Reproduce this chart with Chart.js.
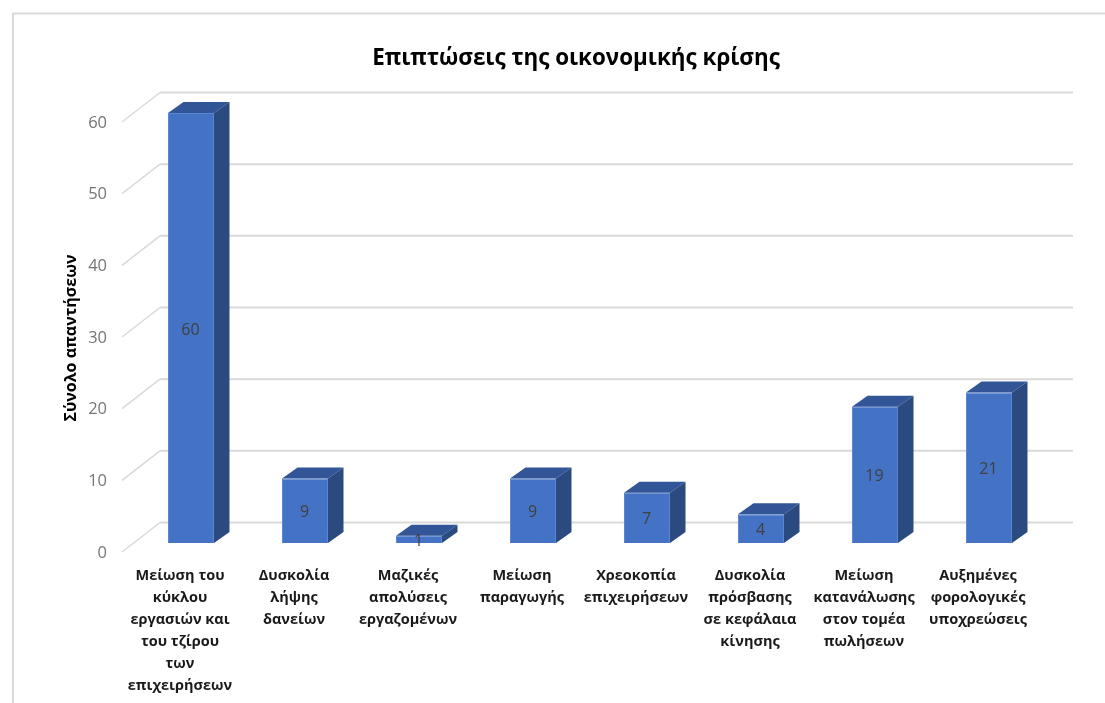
<!DOCTYPE html>
<html><head><meta charset="utf-8">
<style>html,body{margin:0;padding:0;background:#fff}canvas{display:block}</style>
<script src="https://cdn.jsdelivr.net/npm/chart.js@4/dist/chart.umd.min.js"></script>
</head><body><canvas id="c" width="1105" height="703"></canvas>
<script>
const categories = [
  ["Μείωση του","κύκλου","εργασιών και","του τζίρου","των","επιχειρήσεων"],
  ["Δυσκολία","λήψης","δανείων"],
  ["Μαζικές","απολύσεις","εργαζομένων"],
  ["Μείωση","παραγωγής"],
  ["Χρεοκοπία","επιχειρήσεων"],
  ["Δυσκολία","πρόσβασης","σε κεφάλαια","κίνησης"],
  ["Μείωση","κατανάλωσης","στον τομέα","πωλήσεων"],
  ["Αυξημένες","φορολογικές","υποχρεώσεις"]
];
const values = [60, 9, 1, 9, 7, 4, 19, 21];
const chartTitle = "Επιπτώσεις της οικονομικής κρίσης";
const yTitle = "Σύνολο απαντήσεων";
const FONT = "'Open Sans', sans-serif";
const DX = 15.5, DY = 11;

const shiftTitle = { id:'shiftTitle', afterLayout(c){ if(c.titleBlock){ c.titleBlock.left += 29; c.titleBlock.right += 29; } } };

const frame = { id:'frame', beforeDraw(c){
  const x=c.ctx; x.save(); x.strokeStyle='#d9d9d9'; x.lineWidth=2;
  x.beginPath(); x.moveTo(13,703); x.lineTo(13,13.5); x.lineTo(1105,13.5); x.stroke(); x.restore();
}};

const grid3d = { id:'grid3d', beforeDatasetsDraw(c){
  const x=c.ctx, s=c.scales.y; x.save(); x.strokeStyle='#d9d9d9';
  s.ticks.forEach(t=>{ const y=s.getPixelForValue(t.value);
    x.lineWidth=1.5; x.beginPath(); x.moveTo(122,y+9); x.lineTo(160,y-20.5); x.stroke();
    x.lineWidth=2; x.beginPath(); x.moveTo(160,y-20.5); x.lineTo(1073,y-20.5); x.stroke();
  }); x.restore();
}};

const bars3d = { id:'bars3d', afterDatasetsDraw(c){
  const x=c.ctx; x.save();
  c.getDatasetMeta(0).data.forEach((b,i)=>{
    const l=b.x-b.width/2, r=b.x+b.width/2, t=b.y, bt=b.base;
    x.fillStyle='#315596'; x.beginPath(); x.moveTo(l,t); x.lineTo(l+DX,t-DY); x.lineTo(r+DX,t-DY); x.lineTo(r,t); x.closePath(); x.fill();
    x.fillStyle='#2a4a80'; x.beginPath(); x.moveTo(r,t); x.lineTo(r+DX,t-DY); x.lineTo(r+DX,bt-DY); x.lineTo(r,bt); x.closePath(); x.fill();
    x.fillStyle='#404040'; x.font="16px "+FONT; x.textAlign='center'; x.textBaseline='middle';
    x.fillText(String(values[i]), b.x-0.5, (t+bt)/2+2);
  });
  x.translate(71,338); x.rotate(-Math.PI/2);
  x.fillStyle='#000'; x.font="700 16px "+FONT; x.textAlign='center'; x.textBaseline='middle';
  x.fillText(yTitle,0,0);
  x.restore();
}};

new Chart(document.getElementById('c'),{
  type:'bar',
  data:{labels:categories,datasets:[{data:values,backgroundColor:'#4472c4',borderColor:'#5b86d4',borderWidth:1,
    barPercentage:0.4035,categoryPercentage:1}]},
  plugins:[frame,grid3d,bars3d,shiftTitle],
  options:{
    responsive:false,animation:false,
    layout:{padding:{left:48,right:59,top:0,bottom:0}},
    plugins:{legend:{display:false},tooltip:{enabled:false},
      title:{display:true,text:chartTitle,color:'#000',font:{family:FONT,size:22.4,weight:'700',lineHeight:1.2},padding:{top:45,bottom:41.1}}},
    scales:{
      x:{grid:{display:false},border:{display:false},
        afterFit(s){s.height=160;},
        ticks:{autoSkip:false,maxRotation:0,minRotation:0,padding:14,labelOffset:-11,color:'#1a1a1a',
          font:{family:FONT,size:14.5,weight:'700',lineHeight:'22px'}}},
      y:{min:0,max:60,grid:{display:false},border:{display:false},
        afterFit(s){s.width=86;},
        ticks:{stepSize:10,padding:19,labelOffset:10,color:'#757575',font:{family:FONT,size:16.5}}}
    }
  }
});
</script></body></html>
